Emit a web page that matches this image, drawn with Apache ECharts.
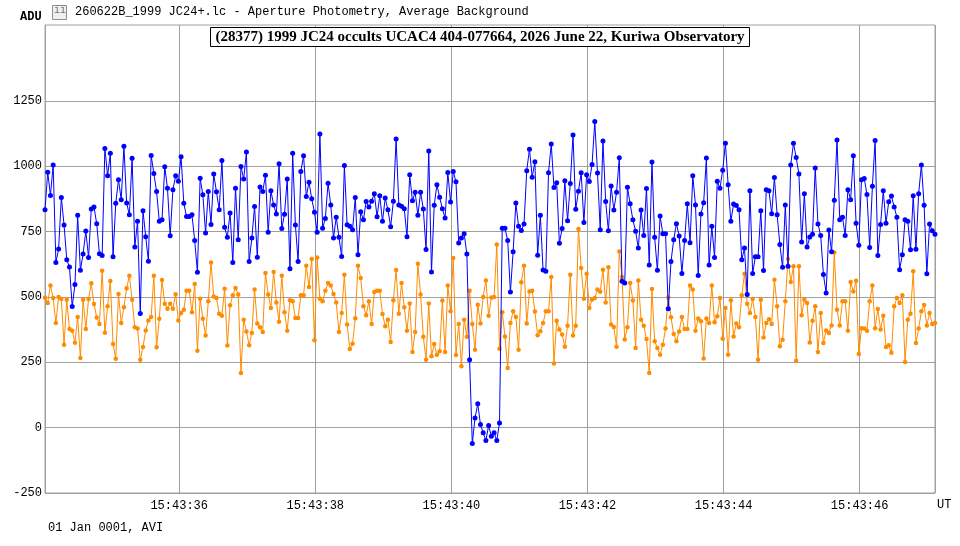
<!DOCTYPE html>
<html>
<head>
<meta charset="utf-8">
<title>1999 JC24 light curve</title>
<script src="https://cdn.jsdelivr.net/npm/echarts@6.0.0/dist/echarts.min.js"></script>
<style>
  html, body { margin: 0; padding: 0; background: #fff; }
  #chart { width: 960px; height: 546px; }
</style>
</head>
<body>
<div id="chart"></div>
<script>
// frame timing (seconds past 15:43 UT), 25 fps AVI
var startSec = 34.028;
var frameStep = 0.04;

// target star (blue), ADU per frame
var target = [
  833, 977, 888, 1005, 632, 683, 880, 775, 642, 614,
  463, 547, 812, 602, 664, 752, 651, 836, 844, 780,
  665, 658, 1068, 963, 1049, 654, 858, 948, 872, 1076,
  859, 814, 1030, 691, 789, 437, 830, 730, 636, 1041,
  972, 903, 789, 795, 998, 916, 734, 910, 963, 942,
  1036, 858, 808, 808, 814, 716, 594, 954, 891, 744,
  903, 777, 970, 902, 833, 1022, 766, 728, 821, 632,
  916, 719, 999, 951, 1054, 635, 725, 846, 652, 920,
  903, 965, 747, 906, 852, 817, 1009, 762, 816, 951,
  608, 1049, 775, 635, 980, 1040, 884, 939, 875, 824,
  747, 1123, 763, 800, 935, 852, 725, 805, 728, 655,
  1003, 776, 770, 757, 880, 661, 826, 795, 865, 844,
  866, 895, 807, 887, 789, 878, 833, 768, 866, 1104,
  852, 847, 837, 730, 967, 868, 900, 812, 900, 836,
  681, 1058, 595, 851, 929, 881, 837, 802, 976, 863,
  980, 940, 706, 725, 742, 664, 260, -61, 37, 91,
  12, -20, -49, 8, -33, -20, -49, 18, 763, 763,
  716, 519, 673, 859, 770, 754, 779, 983, 1065, 958,
  1017, 659, 812, 603, 598, 975, 1085, 918, 937, 705,
  762, 944, 791, 934, 1119, 835, 904, 975, 785, 967,
  941, 1006, 1171, 974, 757, 1096, 865, 753, 924, 832,
  900, 1032, 560, 553, 919, 856, 795, 751, 687, 832,
  735, 915, 622, 1016, 728, 602, 809, 742, 742, 455,
  635, 719, 780, 733, 590, 716, 856, 707, 963, 852,
  582, 817, 860, 1031, 622, 770, 651, 942, 916, 984,
  1088, 929, 789, 855, 850, 833, 642, 687, 509, 906,
  590, 654, 654, 830, 601, 910, 906, 818, 957, 814,
  700, 613, 852, 617, 1005, 1088, 1033, 970, 710, 895,
  691, 729, 740, 993, 779, 735, 586, 515, 756, 673,
  870, 1100, 795, 805, 735, 910, 872, 1040, 782, 698,
  948, 953, 892, 689, 923, 1098, 658, 777, 906, 782,
  864, 886, 844, 805, 604, 661, 795, 789, 680, 887,
  682, 895, 1005, 851, 589, 779, 753, 740
];

// comparison / background (orange), ADU per frame
var comp = [
  497, 477, 544, 496, 400, 500, 492, 317, 489, 377,
  371, 325, 423, 266, 489, 377, 492, 552, 473, 421,
  396, 600, 363, 464, 561, 320, 263, 511, 400, 460,
  533, 581, 489, 384, 379, 260, 308, 372, 410, 423,
  581, 307, 416, 565, 474, 455, 474, 455, 510, 410,
  438, 451, 524, 524, 441, 549, 294, 493, 416, 352,
  483, 632, 502, 496, 436, 428, 531, 314, 468, 506,
  534, 509, 209, 413, 368, 315, 362, 528, 398, 384,
  366, 591, 509, 458, 595, 479, 405, 581, 441, 371,
  487, 483, 419, 419, 506, 506, 619, 538, 645, 334,
  651, 493, 483, 524, 553, 544, 511, 479, 366, 438,
  585, 394, 301, 321, 418, 619, 572, 464, 430, 483,
  396, 519, 524, 524, 435, 388, 413, 328, 487, 603,
  436, 553, 460, 371, 475, 289, 366, 627, 509, 348,
  260, 475, 273, 320, 279, 292, 486, 289, 544, 445,
  649, 278, 396, 235, 413, 348, 524, 396, 298, 470,
  398, 500, 563, 428, 498, 500, 700, 302, 441, 349,
  228, 400, 445, 423, 298, 556, 619, 398, 521, 524,
  444, 353, 369, 400, 445, 445, 576, 245, 409, 375,
  356, 309, 390, 585, 352, 390, 760, 611, 493, 589,
  458, 490, 496, 528, 520, 604, 479, 613, 394, 385,
  309, 674, 576, 337, 384, 553, 486, 305, 563, 413,
  390, 339, 209, 530, 330, 305, 279, 317, 379, 498,
  422, 358, 330, 368, 423, 377, 377, 544, 528, 371,
  417, 407, 264, 417, 400, 544, 403, 426, 496, 340,
  458, 279, 487, 349, 398, 384, 506, 589, 474, 438,
  492, 423, 260, 489, 345, 400, 415, 396, 566, 464,
  311, 336, 483, 645, 557, 617, 256, 617, 430, 489,
  477, 326, 409, 464, 289, 438, 324, 372, 362, 391,
  670, 451, 391, 483, 483, 371, 557, 521, 562, 282,
  380, 379, 371, 483, 544, 380, 454, 375, 428, 308,
  315, 286, 464, 496, 477, 506, 251, 413, 436, 598,
  324, 379, 445, 469, 391, 438, 396, 400
];

var yMin = -250, yMax = 1540, yStep = 250;
var yTopLabel = 1250;

var mono = 'Liberation Mono, Courier New, monospace';
var grey = '#a0a0a0';

function toPairs(arr) {
  return arr.map(function (v, i) { return [startSec + i * frameStep, v]; });
}

var endSec = startSec + (target.length - 1) * frameStep;

// gridlines only up to the last labelled value
var splitColors = [];
for (var t = yMin; t <= yTopLabel; t += yStep) splitColors.push(grey);
splitColors.push('rgba(0,0,0,0)', 'rgba(0,0,0,0)');

var chart = echarts.init(document.getElementById('chart'));

chart.setOption({
  animation: false,
  backgroundColor: '#fff',
  title: {
    text: '(28377) 1999 JC24 occults UCAC4 404-077664, 2026 June 22, Kuriwa Observatory',
    left: 'center',
    top: 27,
    padding: [3, 5, 2, 5],
    backgroundColor: '#fff',
    borderColor: '#000',
    borderWidth: 1,
    textStyle: {
      fontFamily: 'Liberation Serif, Times New Roman, serif',
      fontWeight: 'bold',
      fontSize: 15,
      color: '#000'
    }
  },
  graphic: [
    { type: 'text', left: 20, top: 11, style: { text: 'ADU', font: 'bold 12px ' + mono, fill: '#000' } },
    { type: 'rect', left: 52, top: 5, shape: { width: 14, height: 14 },
      style: { fill: '#f0f0f0', stroke: '#909090', lineWidth: 1 } },
    { type: 'text', left: 54, top: 5, style: { text: 'ïï', font: '10px ' + mono, fill: '#707070' } },
    { type: 'text', left: 75, top: 6, style: { text: '260622B_1999 JC24+.lc - Aperture Photometry, Average Background', font: '12px ' + mono, fill: '#000' } },
    { type: 'text', left: 48, top: 522, style: { text: '01 Jan 0001, AVI', font: '12px ' + mono, fill: '#000' } },
    { type: 'text', left: 937, top: 499, style: { text: 'UT', font: '12px ' + mono, fill: '#000' } }
  ],
  grid: {
    left: 45, right: 25, top: 25, bottom: 53,
    show: true, borderColor: grey, borderWidth: 1,
    containLabel: false
  },
  xAxis: {
    type: 'value',
    min: startSec,
    max: endSec,
    splitNumber: 6,
    axisLine: { show: false },
    axisTick: { show: false },
    splitLine: { show: true, lineStyle: { color: grey, width: 1 } },
    axisLabel: {
      showMinLabel: false,
      showMaxLabel: false,
      margin: 7,
      fontFamily: mono,
      fontSize: 12,
      color: '#000',
      formatter: function (v) {
        var s = Math.round(v);
        return '15:43:' + (s < 10 ? '0' : '') + s;
      }
    }
  },
  yAxis: {
    type: 'value',
    min: yMin,
    max: yMax,
    interval: yStep,
    axisLine: { show: false },
    axisTick: { show: false },
    splitLine: { show: true, lineStyle: { color: splitColors, width: 1 } },
    axisLabel: {
      margin: 3,
      fontFamily: mono,
      fontSize: 12,
      color: '#000',
      formatter: function (v) { return v > yTopLabel ? '' : String(v); }
    }
  },
  series: [
    {
      name: 'Comparison',
      type: 'line',
      data: toPairs(comp),
      symbol: 'circle',
      symbolSize: 4.5,
      lineStyle: { color: '#ff8c00', width: 1 },
      itemStyle: { color: '#ff8c00' },
      emphasis: { disabled: true },
      z: 2
    },
    {
      name: 'Target',
      type: 'line',
      data: toPairs(target),
      symbol: 'circle',
      symbolSize: 5,
      lineStyle: { color: '#0000ff', width: 1 },
      itemStyle: { color: '#0000ff' },
      emphasis: { disabled: true },
      z: 3
    }
  ]
});
</script>
</body>
</html>
